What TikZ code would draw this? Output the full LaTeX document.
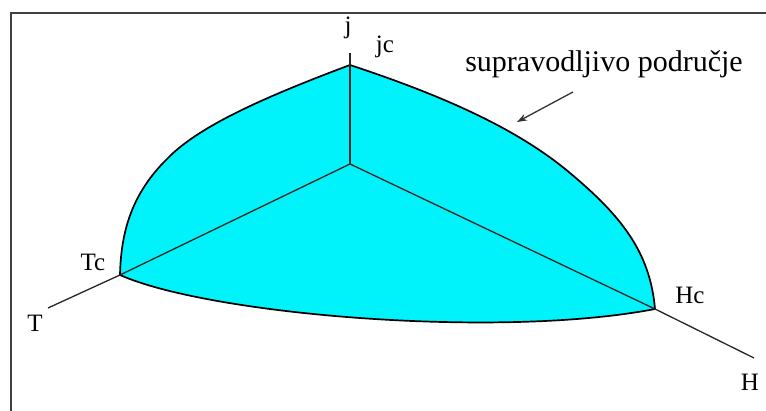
\documentclass[tikz,border=0pt]{standalone}
\usepackage{fontspec}
\setmainfont{Liberation Serif}
\usetikzlibrary{arrows.meta}
\definecolor{scfill}{RGB}{0,242,250}
\tikzset{
  axisline/.style={line width=1.3pt, draw=black!85},
  edgeline/.style={line width=1.7pt, draw=black},
  lbl/.style={font=\fontsize{25}{28}\selectfont, inner sep=0pt},
}

\begin{document}
\begin{tikzpicture}[x=10pt,y=10pt]
  \useasboundingbox (0,0) rectangle (76.6,41.1);

  % Frame
  \draw[line width=2pt, black!75] (1.1,0) -- (1.1,39.8) -- (76.6,39.8);

  % Key points
  \coordinate (O) at (35,24.7);
  \coordinate (Jc) at (35,34.6);
  \coordinate (Jend) at (35,35.8);
  \coordinate (Tc) at (12,13.6);
  \coordinate (Tend) at (4.8,10.3);
  \coordinate (Hc) at (65.5,10.2);
  \coordinate (Hend) at (75.4,5.3);

  % Superconducting region
  \filldraw[edgeline, fill=scfill, line join=round]
    (Jc) .. controls (27,31.6) and (20,28.6) .. (16.8,25.3)
         .. controls (13.2,21.8) and (12.1,18) .. (Tc)
         .. controls (21,9.6) and (50,7.2) .. (Hc)
         .. controls (65,16) and (62,19.6) .. (57,23.8)
         .. controls (52,28) and (45,31.3) .. cycle;

  % Axes
  \draw[axisline] (O) -- (Jend);
  \draw[axisline] (O) -- (Tc) -- (Tend);
  \draw[axisline] (O) -- (Hc) -- (Hend);

  % Labels
  \node[lbl] (jlab) at (34.8,38.3) {j};
  \node[lbl] (jclab) at (38.5,36.4) {jc};
  \node[lbl] (tclab) at (9.3,14.9) {Tc};
  \node[lbl] (tlab) at (3.5,8.8) {T};
  \node[lbl] (hclab) at (69.0,11.6) {Hc};
  \node[lbl] (hlab) at (75.0,2.9) {H};
  \node[font=\fontsize{30}{34}\selectfont, inner sep=0pt] (region) at (60.4,34.7) {supravodljivo područje};

  % Pointer to region boundary
  \coordinate (tail) at (57.3,31.9);
  \coordinate (tip) at (51.7,28.9);
  \draw[-{Stealth[length=10pt,width=7pt]}, line width=1.3pt, black!80] (tail) -- (tip);

\end{tikzpicture}
\end{document}
